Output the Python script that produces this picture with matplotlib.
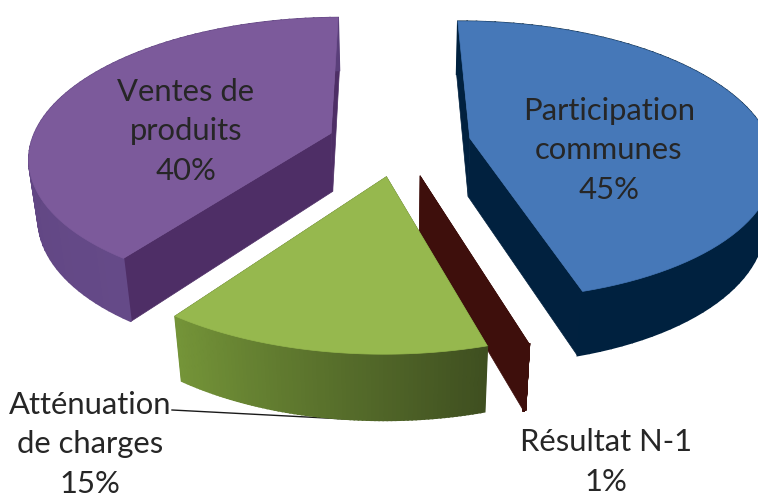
import numpy as np
import matplotlib
matplotlib.use('Agg')
import matplotlib.pyplot as plt

plt.rcParams['font.family'] = ['Lato', 'DejaVu Sans']

# Labels round to 101 %, so the wedge angles use the estimated shares
categories = ['Participation\ncommunes', 'Résultat N-1', 'Atténuation\nde charges', 'Ventes de\nproduits']
percents = [45, 1, 15, 40]
shares = [45.55, 0.1, 14.35, 40.0]

top_colors = ['#4678B8', '#3E0F0C', '#96B84E', '#7C5A9B']
cut_colors = ['#01213F', '#3E0F0C', '#3F4F20', '#4E2E66']
rim_left = ['#00213F', '#3E0F0C', '#3F4F20', '#654A88']  # colour at the slice start
rim_right = ['#00213F', '#3E0F0C', '#749438', '#5A3F7A']  # colour at the slice end
label_pos = [(609, 150), (606, 462), (90, 444), (186, 131)]

# Projection parameters of the 3D pie
cx, cy = 399, 143
R, T, H = 300, 137, 60
p, q = 0.16, 0.025
explode = 0.24
start_deg = -0.5


def project(u, v, z):
    w = 1 - p * v + q * z
    return cx + R * u / w, cy + (T * v + H * z) / w


def rim(ang, du, dv, z):
    return project(np.sin(ang) + du, -np.cos(ang) + dv, z)


fig = plt.figure(figsize=(7.58, 4.98), dpi=100)
ax = fig.add_axes([0, 0, 1, 1])
ax.set_xlim(0, 758)
ax.set_ylim(498, 0)
ax.axis('off')

spans = np.array(shares) / sum(shares) * 2 * np.pi
starts = np.radians(start_deg) + np.concatenate([[0], np.cumsum(spans)[:-1]])


def draw_slice(i):
    a0, a1 = starts[i], starts[i] + spans[i]
    mid = (a0 + a1) / 2
    du, dv = explode * np.sin(mid), -explode * np.cos(mid)
    ang = np.linspace(a0, a1, 80)
    z = 2 + i * 0.1

    # flat cut walls
    for a in (a0, a1):
        c0 = project(du, dv, 0)
        c1 = project(du, dv, 1)
        r0 = rim(a, du, dv, 0)
        r1 = rim(a, du, dv, 1)
        ax.fill([c0[0], r0[0], r1[0], c1[0]], [c0[1], r0[1], r1[1], c1[1]],
                color=cut_colors[i], lw=0.5, zorder=z)

    # outer wall with a gradient along the arc
    c_a = np.array(matplotlib.colors.to_rgb(rim_left[i]))
    c_b = np.array(matplotlib.colors.to_rgb(rim_right[i]))
    for k in range(len(ang) - 1):
        x0, y0 = rim(ang[k], du, dv, 0)
        x1, y1 = rim(ang[k + 1], du, dv, 0)
        x2, y2 = rim(ang[k + 1], du, dv, 1)
        x3, y3 = rim(ang[k], du, dv, 1)
        col = c_a + (c_b - c_a) * k / (len(ang) - 2)
        ax.fill([x0, x1, x2, x3], [y0, y1, y2, y3], color=col, lw=1.2, zorder=z)

    # top face
    xs, ys = rim(ang, du, dv, 0)
    c0 = project(du, dv, 0)
    ax.fill(np.r_[c0[0], xs], np.r_[c0[1], ys], color=top_colors[i], lw=0.5, zorder=z)


for i in [0, 3, 1, 2]:
    draw_slice(i)

# Leader line of the green slice, its end runs under the wall
ax.plot([172, 345], [410, 419], color='#1A1A1A', lw=1, zorder=2.15)

for name, pct, pos in zip(categories, percents, label_pos):
    ax.text(pos[0], pos[1], f'{name}\n{pct}%', ha='center', va='center', fontsize=22.3,
            color='#262626', linespacing=1.5, zorder=5)

plt.savefig('out.png', dpi=100)
